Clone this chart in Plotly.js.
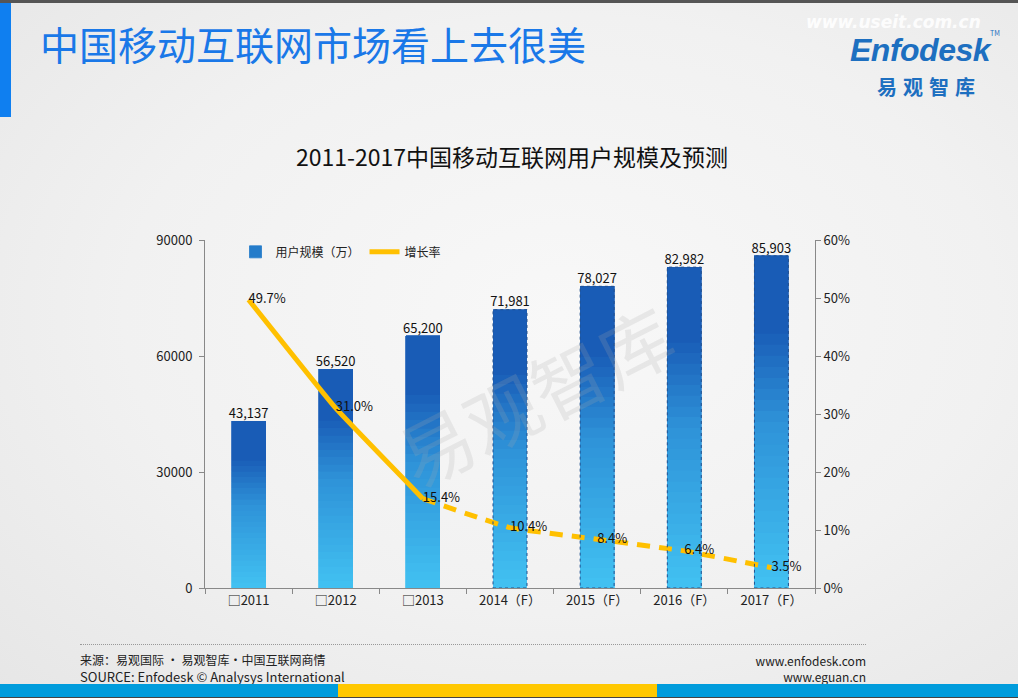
<!DOCTYPE html>
<html>
<head>
<meta charset="utf-8">
<script src="https://cdn.plot.ly/plotly-3.0.1.min.js"></script>
<style>
  html, body { margin:0; padding:0; }
  body { width:1018px; height:698px; position:relative; overflow:hidden;
         font-family:"Noto Sans CJK SC","Noto Sans",sans-serif;
         background: radial-gradient(ellipse at 55% 45%, #f8f8f8 0%, #f1f1f1 55%, #e6e6e6 100%); }
  .abs { position:absolute; }
  #chart { position:absolute; left:0; top:0; width:1018px; height:698px; }
</style>
</head>
<body>
<div class="abs" style="left:0;top:0;width:1018px;height:3px;background:#555;"></div>
<div class="abs" style="left:0;top:3px;width:11px;height:114px;background:#0f7ff0;"></div>
<div class="abs" style="left:40px;top:17px;font-size:39px;line-height:52px;color:#1a78e8;white-space:nowrap;">中国移动互联网市场看上去很美</div>

<div class="abs" style="left:806px;top:12px;font-size:17px;line-height:20px;font-weight:bold;font-style:italic;color:rgba(255,255,255,0.9);font-family:'DejaVu Sans',sans-serif;white-space:nowrap;">www.useit.com.cn</div>
<div class="abs" style="left:850px;top:32px;font-size:32px;line-height:36px;font-weight:bold;font-style:italic;color:#1d6fc0;font-family:'Liberation Sans',sans-serif;white-space:nowrap;letter-spacing:-0.5px;">Enfodesk</div>
<div class="abs" style="left:990px;top:30px;font-size:7px;line-height:7px;color:#1d6fc0;">TM</div>
<div class="abs" style="left:877px;top:74px;font-size:20px;line-height:26px;font-weight:bold;color:#1d6fc0;white-space:nowrap;letter-spacing:6px;">易观智库</div>

<div id="chart"></div>

<div class="abs" style="left:80px;top:644px;width:786px;height:0;border-top:1px dotted #999;"></div>
<div class="abs" style="left:80px;top:653px;font-size:12px;line-height:13px;color:#222;white-space:nowrap;">来源：易观国际 · 易观智库·中国互联网商情</div>
<div class="abs" style="left:80px;top:670px;font-size:13px;line-height:13px;color:#222;white-space:nowrap;">SOURCE: Enfodesk © Analysys International</div>
<div class="abs" style="right:152px;top:654px;font-size:12px;line-height:13px;color:#222;white-space:nowrap;text-align:right;">www.enfodesk.com</div>
<div class="abs" style="right:152px;top:670px;font-size:12px;line-height:13px;color:#222;white-space:nowrap;text-align:right;">www.eguan.cn</div>

<div class="abs" style="left:0;top:684px;width:338px;height:13px;background:#009cdc;"></div>
<div class="abs" style="left:338px;top:684px;width:319px;height:13px;background:#ffc800;"></div>
<div class="abs" style="left:657px;top:684px;width:361px;height:13px;background:#009cdc;"></div>
<div class="abs" style="left:0;top:697px;width:1018px;height:1px;background:#444;"></div>

<script>
// ---- data ----
const years = ["□2011", "□2012", "□2013", "2014（F）", "2015（F）", "2016（F）", "2017（F）"];
const users = [43137, 56520, 65200, 71981, 78027, 82982, 85903];
const growth = [49.7, 31.0, 15.4, 10.4, 8.4, 6.4, 3.5];
const forecastFrom = 3;          // index of first forecast year
const seriesNames = ["用户规模（万）", "增长率"];

// ---- gradient bars built as stacked slices of each value ----
const N = 30;
const cTop = [25, 92, 182], cMid = [46, 146, 216], cBot = [66, 194, 242];
function colorAt(t) { // t: 0 bottom -> 1 top
  let a, b, u;
  if (t < 0.5) { a = cBot; b = cMid; u = t / 0.5; }
  else { a = cMid; b = cTop; u = Math.min(1, (t - 0.5) / 0.28); }
  const c = a.map((v, k) => Math.round(v + (b[k] - v) * u));
  return `rgb(${c[0]},${c[1]},${c[2]})`;
}
const traces = [];
for (let i = 0; i < N; i++) {
  const col = colorAt((i + 0.5) / N);
  traces.push({
    type: "bar", x: years, y: users.map(v => v / N),
    marker: { color: col, line: { width: 0.8, color: col } },
    width: 0.39, hoverinfo: "skip",
    name: seriesNames[0], showlegend: i === Math.floor(N * 0.6), legendrank: 1
  });
}
// bar value labels
traces.push({
  type: "scatter", mode: "text", x: years, y: users,
  text: users.map(v => v.toLocaleString("en-US")),
  textposition: "top center", textfont: { size: 13, color: "#111" },
  showlegend: false, hoverinfo: "skip"
});
// growth line: solid for actuals, dashed for forecasts
traces.push({
  type: "scatter", mode: "lines", x: years.slice(0, forecastFrom), y: growth.slice(0, forecastFrom),
  yaxis: "y2", line: { color: "#ffc000", width: 5, shape: "spline", smoothing: 0.3 },
  name: seriesNames[1], legendrank: 2, hoverinfo: "skip"
});
traces.push({
  type: "scatter", mode: "lines", x: years.slice(forecastFrom - 1), y: growth.slice(forecastFrom - 1),
  yaxis: "y2", line: { color: "#ffc000", width: 5, dash: "13px,9px", shape: "spline", smoothing: 0.3 },
  showlegend: false, hoverinfo: "skip"
});
traces.push({
  type: "scatter", mode: "text", x: years, y: growth, yaxis: "y2",
  text: growth.map(v => v.toFixed(1) + "%"),
  textposition: "middle right", textfont: { size: 13, color: "#111" },
  showlegend: false, hoverinfo: "skip"
});

// dashed outlines for forecast bars
const shapes = [];
for (let i = forecastFrom; i < users.length; i++) {
  shapes.push({
    type: "rect", xref: "x", yref: "y", x0: i - 0.195, x1: i + 0.195, y0: 0, y1: users[i],
    line: { color: "#23518f", width: 1, dash: "dot" }, fillcolor: "rgba(0,0,0,0)", layer: "above"
  });
}

const axisFont = { family: "Noto Sans CJK SC, Noto Sans, sans-serif", size: 13, color: "#222" };
const layout = {
  width: 1018, height: 698,
  margin: { l: 205, r: 203, t: 240, b: 110 },
  paper_bgcolor: "rgba(0,0,0,0)", plot_bgcolor: "rgba(0,0,0,0)",
  font: { family: "Noto Sans CJK SC, Noto Sans, sans-serif", color: "#222" },
  barmode: "stack", bargap: 0.61,
  title: { text: "2011-2017中国移动互联网用户规模及预测", x: 0.503, xanchor: "center", y: 0.774, yanchor: "middle",
           font: { size: 23, color: "#111" } },
  xaxis: { type: "category", showline: true, linecolor: "#888", linewidth: 1, ticks: "outside",
           tickson: "boundaries", ticklen: 5, tickcolor: "#888", tickfont: axisFont, showgrid: false,
           zeroline: false, fixedrange: true },
  yaxis: { range: [0, 90000], tickvals: [0, 30000, 60000, 90000], tickformat: "d", showline: true,
           linecolor: "#888", ticks: "outside", ticklen: 5, tickcolor: "#888", tickfont: axisFont,
           showgrid: false, zeroline: false, ticklabelstandoff: 4 },
  yaxis2: { overlaying: "y", side: "right", range: [0, 60], dtick: 10, ticksuffix: "%", showline: true,
            linecolor: "#888", ticks: "outside", ticklen: 5, tickcolor: "#888", tickfont: axisFont,
            showgrid: false, zeroline: false },
  legend: { orientation: "h", x: 0.05, xanchor: "left", y: 0.966, yanchor: "middle",
            bgcolor: "rgba(0,0,0,0)", font: { size: 12, color: "#222" }, traceorder: "normal",
            itemwidth: 30 },
  shapes: shapes,
  annotations: [{
    text: "易观智库", xref: "paper", yref: "paper", x: 0.54, y: 0.56, showarrow: false,
    textangle: -27, font: { size: 74, color: "rgba(170,170,170,0.2)" }
  }]
};
Plotly.newPlot("chart", traces, layout, { displayModeBar: false, staticPlot: true });
</script>
</body>
</html>
